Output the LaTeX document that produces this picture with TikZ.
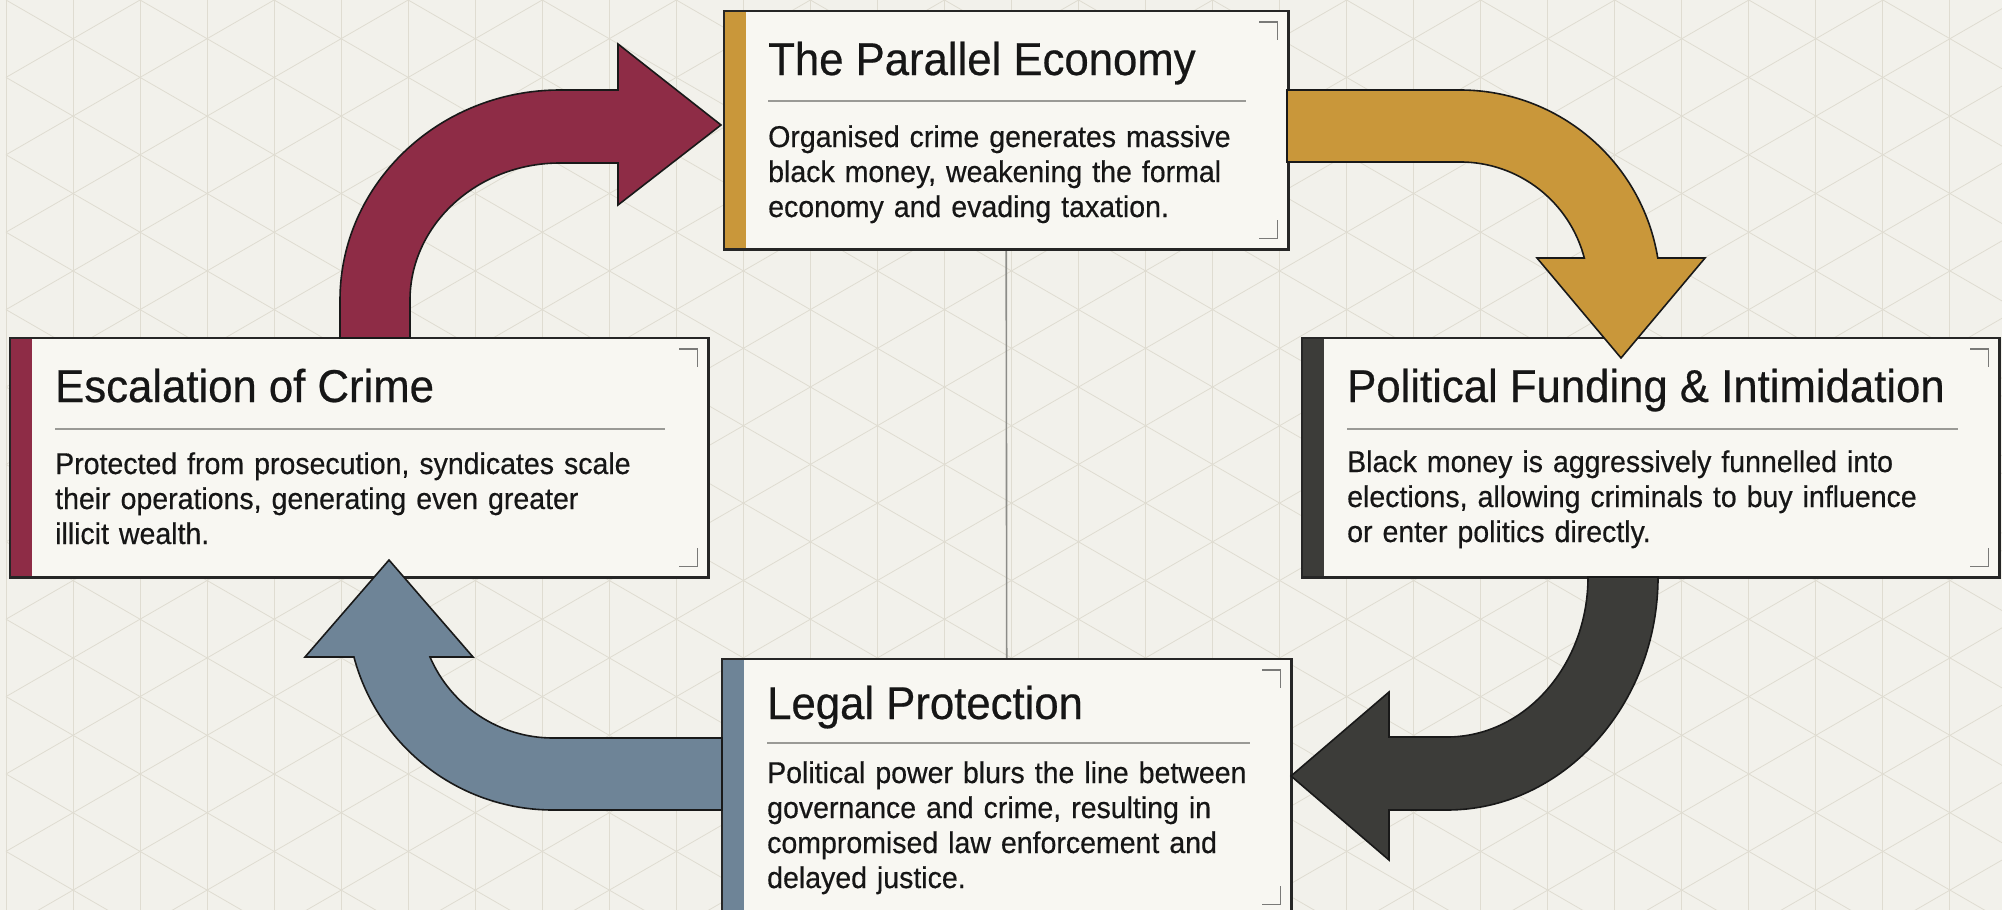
\documentclass[tikz,border=0pt]{standalone}
\usepackage{fontspec}
\setmainfont[FakeStretch=0.95,FakeBold=0.5]{Liberation Sans}
\usetikzlibrary{calc}
\definecolor{bgc}{HTML}{F2F1EB}
\definecolor{gridc}{HTML}{DFDCD1}
\definecolor{boxfill}{HTML}{F8F7F2}
\definecolor{crim}{HTML}{8E2C46}
\definecolor{goldc}{HTML}{C9973A}
\definecolor{darkc}{HTML}{3C3C39}
\definecolor{bluec}{HTML}{6E8497}
\definecolor{txt}{HTML}{161616}
\definecolor{rulec}{HTML}{9A9A96}
\definecolor{markc}{HTML}{7A7A78}
\definecolor{linkc}{HTML}{8C8C88}
\begin{document}
\begin{tikzpicture}[x=1pt,y=-1pt,
  panel/.style={draw=none, fill=boxfill, inner sep=0pt, anchor=north west},
  border/.style={draw=black!85, line width=2.8pt},
  divider/.style={draw=rulec, line width=1.6pt},
  cornermark/.style={draw=markc, line width=1.6pt},
  ttl/.style={anchor=base west, inner sep=0pt, text=txt, font=\fontsize{46}{55}\selectfont},
  bodytxt/.style={anchor=base west, inner sep=0pt, text=txt, text width=640pt, align=left, font=\fontsize{30}{35}\selectfont},
  flow/.style={draw=black!90, line width=1.6pt, line join=miter},
  gridline/.style={draw=gridc, line width=0.8pt}
]
\fill[bgc] (0,0) rectangle (2002,910);
\useasboundingbox (0,0) rectangle (2002,910);
\begin{scope}
\clip (0,0) rectangle (2002,910);
\foreach \i in {0,...,30} {\draw[gridline] (6+\i*67,0) -- (6+\i*67,910);}
\foreach \k in {-17,...,29} {
  \draw[gridline] (6,\k*77.4) -- ++(2100,1212.4);
  \draw[gridline] (6,\k*77.4) -- ++(2100,-1212.4);
}
\end{scope}

% boxes
\node[panel, minimum width=564pt, minimum height=238pt] (econ) at (724,11) {};
\node[panel, minimum width=698pt, minimum height=239pt] (esc) at (10,338) {};
\node[panel, minimum width=697pt, minimum height=239pt] (pol) at (1302,338) {};
\node[panel, minimum width=569pt, minimum height=256pt] (legal) at (722,659) {};

\draw[draw=linkc, line width=1.6pt] (econ.south) -- (legal.north);

\fill[goldc] (econ.north west) rectangle ($(econ.south west)+(22,0)$);
\fill[crim] (esc.north west) rectangle ($(esc.south west)+(22,0)$);
\fill[darkc] (pol.north west) rectangle ($(pol.south west)+(22,0)$);
\fill[bluec] (legal.north west) rectangle ($(legal.south west)+(22,0)$);

\foreach \b in {econ,esc,pol,legal} {
  \draw[border] (\b.north west) rectangle (\b.south east);
  \draw[cornermark] ($(\b.north east)+(-29,11)$) -- ++(18,0) -- ++(0,18);
  \draw[cornermark] ($(\b.south east)+(-11,-29)$) -- ++(0,18) -- ++(-18,0);
}

% texts
\node[ttl] (econT) at ($(econ.north west)+(44,64)$) {The Parallel Economy};
\draw[divider] ($(econ.north west)+(44,90)$) -- ($(econ.north east)+(-42,90)$);
\node[bodytxt] (econB) at ($(econ.north west)+(44,136)$) {Organised crime generates massive\\black money, weakening the formal\\economy and evading taxation.};

\node[ttl] (escT) at ($(esc.north west)+(45,64)$) {Escalation of Crime};
\draw[divider] ($(esc.north west)+(45,91)$) -- ($(esc.north east)+(-43,91)$);
\node[bodytxt] (escB) at ($(esc.north west)+(45,136)$) {Protected from prosecution, syndicates scale\\their operations, generating even greater\\illicit wealth.};

\node[ttl] (polT) at ($(pol.north west)+(45,64)$) {Political Funding \& Intimidation};
\draw[divider] ($(pol.north west)+(45,91)$) -- ($(pol.north east)+(-41,91)$);
\node[bodytxt] (polB) at ($(pol.north west)+(45,134)$) {Black money is aggressively funnelled into\\elections, allowing criminals to buy influence\\or enter politics directly.};

\node[ttl] (legalT) at ($(legal.north west)+(45,60)$) {Legal Protection};
\draw[divider] ($(legal.north west)+(45,84)$) -- ($(legal.north east)+(-41,84)$);
\node[bodytxt] (legalB) at ($(legal.north west)+(45,124)$) {Political power blurs the line between\\governance and crime, resulting in\\compromised law enforcement and\\delayed justice.};

% arrows
\coordinate (tipA) at (721,125);
\coordinate (tipB) at (1621,358);
\coordinate (tipC) at (1291,776);
\coordinate (tipD) at (389,560);

\filldraw[flow, fill=crim] (340,338) -- (340,300) .. controls (340,184) and (439,90) .. (560,90)
  -- (618,90) -- (618,44) -- (tipA) -- (618,205) -- (618,163) -- (560,163)
  .. controls (477,163) and (410,225) .. (410,300) -- (410,338) -- cycle;

\filldraw[flow, fill=goldc] (1287,90) -- (1460,90) arc[start angle=270, end angle=350.7, radius=200.4]
  -- (1705,258) -- (tipB) -- (1537,258) -- (1584.3,258) arc[start angle=345.4, end angle=270, radius=128.4]
  -- (1287,162) -- cycle;

\filldraw[flow, fill=darkc] (1658,577) .. controls (1658,705) and (1563,810) .. (1447,810)
  -- (1389,810) -- (1389,860) -- (tipC) -- (1389,692) -- (1389,737) -- (1447,737)
  .. controls (1525,737) and (1588,665) .. (1588,577) -- cycle;

\filldraw[flow, fill=bluec] (722,810) -- (553,810) arc[start angle=90, end angle=165.1, radius=206]
  -- (305,657) -- (tipD) -- (473,657) -- (430,657) arc[start angle=156.7, end angle=90, radius=134]
  -- (722,738) -- cycle;
\end{tikzpicture}
\end{document}
